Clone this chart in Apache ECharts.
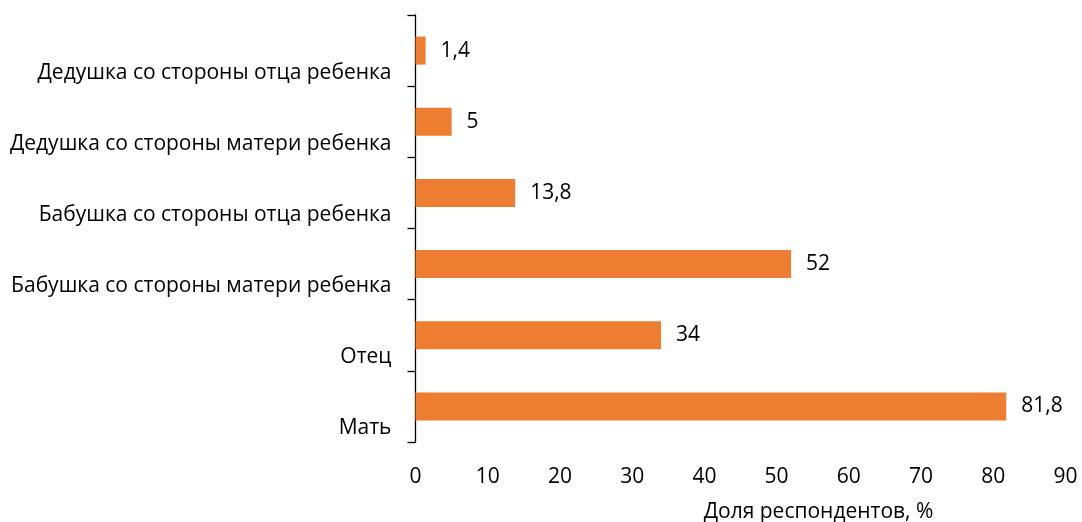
<!DOCTYPE html>
<html>
<head>
<meta charset="utf-8">
<script src="https://cdn.jsdelivr.net/npm/echarts@6/dist/echarts.min.js"></script>
<style>html,body{margin:0;padding:0;background:#fff}#c{width:1082px;height:522px}</style>
</head>
<body>
<div id="c"></div>
<script>
const categories = ['Мать', 'Отец', 'Бабушка со стороны матери ребенка', 'Бабушка со стороны отца ребенка', 'Дедушка со стороны матери ребенка', 'Дедушка со стороны отца ребенка'];
const values = [81.8, 34, 52, 13.8, 5, 1.4];
const xTicks = [0, 10, 20, 30, 40, 50, 60, 70, 80, 90];
const axisTitle = 'Доля респондентов, %';

const FONT = 'Open Sans';
const FS = 21;
const chart = echarts.init(document.getElementById('c'), null, {renderer: 'canvas'});
chart.setOption({
  animation: false,
  backgroundColor: '#fff',
  grid: {left: 415.5, right: 16.5, top: 15, bottom: 80, containLabel: false, outerBoundsMode: 'none'},
  xAxis: {
    type: 'value', min: xTicks[0], max: xTicks[xTicks.length - 1], interval: 10,
    axisLine: {show: false}, axisTick: {show: false}, splitLine: {show: false},
    axisLabel: {color: '#000', fontSize: FS, fontFamily: FONT, margin: 25},
    name: axisTitle, nameLocation: 'middle', nameGap: 60,
    nameTextStyle: {color: '#000', fontSize: FS, fontFamily: FONT, padding: [0, 0, 0, 156]}
  },
  yAxis: {
    type: 'category', data: categories,
    axisLine: {show: true, lineStyle: {color: '#000', width: 1.3}},
    axisTick: {show: true, length: 8, lineStyle: {color: '#000', width: 1.3}},
    axisLabel: {color: '#000', fontSize: FS, fontFamily: FONT, margin: 24, lineHeight: 44,
      interval: 0, hideOverlap: false, formatter: v => '\n' + v}
  },
  series: [{
    type: 'bar', data: values, barWidth: 28,
    itemStyle: {color: '#ED7D31'},
    label: {
      show: true, position: 'right', distance: 15, color: '#000', fontSize: FS, fontFamily: FONT,
      formatter: p => String(p.value).replace('.', ',')
    }
  }]
});
</script>
</body>
</html>
